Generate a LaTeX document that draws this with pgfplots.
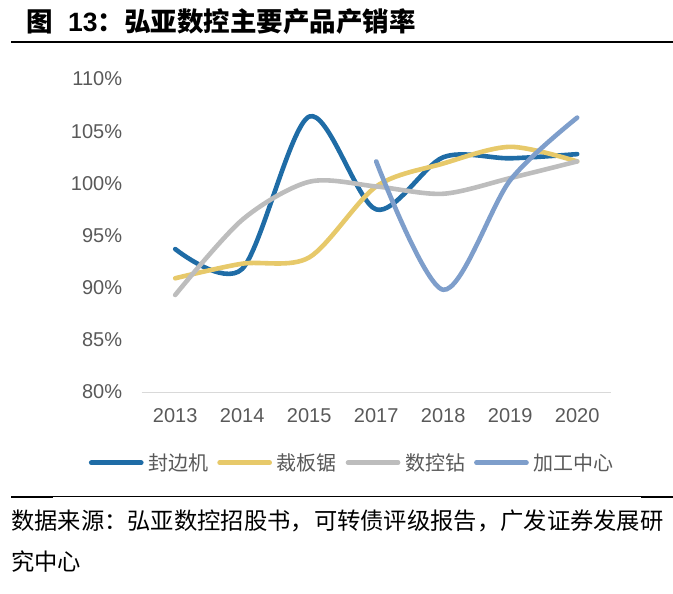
\documentclass[border=0pt]{standalone}
\usepackage{fontspec}
\setmainfont{Liberation Sans}
\newfontfamily\cjk{Noto Sans CJK SC}
\usepackage{pgfplots}
\pgfplotsset{compat=1.18}

\definecolor{cfbj}{HTML}{1F6CA6}
\definecolor{ccbj}{HTML}{E7C96A}
\definecolor{cskz}{HTML}{BDBDBD}
\definecolor{cjgzx}{HTML}{7E9ECB}
\definecolor{ctxt}{HTML}{595959}
\definecolor{caxis}{HTML}{D9D9D9}

\begin{document}
\begin{tikzpicture}
\useasboundingbox (0,0) rectangle (673bp,-594bp);

% title and rules
\node[anchor=base west, inner sep=0pt] at (26.5bp,-31.5bp)
  {\cjk\bfseries\fontsize{26.5bp}{30bp}\selectfont 图\hspace{15bp}{\rmfamily 13}：弘亚数控主要产品产销率};
\draw[line width=1.7bp] (11bp,-42bp) -- (673bp,-42bp);
\draw[line width=1bp] (11bp,-496.7bp) -- (673bp,-496.7bp);
\draw[line width=2bp] (11bp,-496.7bp) -- (53bp,-496.7bp);
\draw[line width=2bp] (641bp,-496.7bp) -- (673bp,-496.7bp);

% source
\node[anchor=base west, inner sep=0pt] at (11bp,-529bp)
  {\cjk\fontsize{23.3bp}{28bp}\selectfont 数据来源：弘亚数控招股书，可转债评级报告，广发证券发展研};
\node[anchor=base west, inner sep=0pt] at (11bp,-570.6bp)
  {\cjk\fontsize{23.3bp}{28bp}\selectfont 究中心};

\begin{axis}[
  at={(141.7bp,-392bp)}, anchor=south west,
  scale only axis, width=469bp, height=313bp,
  xmin=-0.5, xmax=6.5, ymin=80, ymax=110,
  axis x line*=bottom, axis y line*=left,
  x axis line style={draw=caxis, line width=1bp, -},
  y axis line style={draw=none},
  xtick={0,...,6},
  xticklabels={2013,2014,2015,2017,2018,2019,2020},
  ytick={80,85,...,110},
  yticklabel={\pgfmathprintnumber{\tick}\%},
  /pgf/number format/assume math mode=true,
  major tick length=0pt,
  tick label style={font=\fontsize{20bp}{24bp}\selectfont, text=ctxt},
  yticklabel style={anchor=east, inner sep=0pt, xshift=-19.4bp},
  xticklabel style={anchor=north, inner sep=0pt, yshift=-16.3bp},
  every axis plot/.append style={smooth, line width=4.6bp, line cap=round, line join=round},
  legend columns=4,
  legend style={at={(0.4467,-0.2259)}, anchor=center, draw=none, fill=none,
    inner sep=0pt, nodes={inner sep=0pt, text=ctxt},
    font=\cjk\fontsize{20bp}{24bp}\selectfont,
    /tikz/every odd column/.append style={column sep=4.7bp},
    /tikz/every even column/.append style={column sep=9bp}},
  legend image code/.code={\draw[#1, line width=4.7bp, line cap=round] (0bp,0bp) -- (50bp,0bp);},
]
\addplot[cfbj] coordinates {(0,93.7) (1,91.8) (2,106.4) (3,97.5) (4,102.5) (5,102.4) (6,102.8)};
\addlegendentry{封边机}
\addplot[ccbj] coordinates {(0,90.9) (1,92.3) (2,92.9) (3,99.7) (4,101.9) (5,103.5) (6,102.1)};
\addlegendentry{裁板锯}
\addplot[cskz] coordinates {(0,89.3) (1,96.5) (2,100.15) (3,99.7) (4,99.0) (5,100.5) (6,102.1)};
\addlegendentry{数控钻}
\addplot[cjgzx] coordinates {(3,102.1) (4,89.8) (5,100.3) (6,106.3)};
\addlegendentry{加工中心}
\end{axis}
\end{tikzpicture}
\end{document}
